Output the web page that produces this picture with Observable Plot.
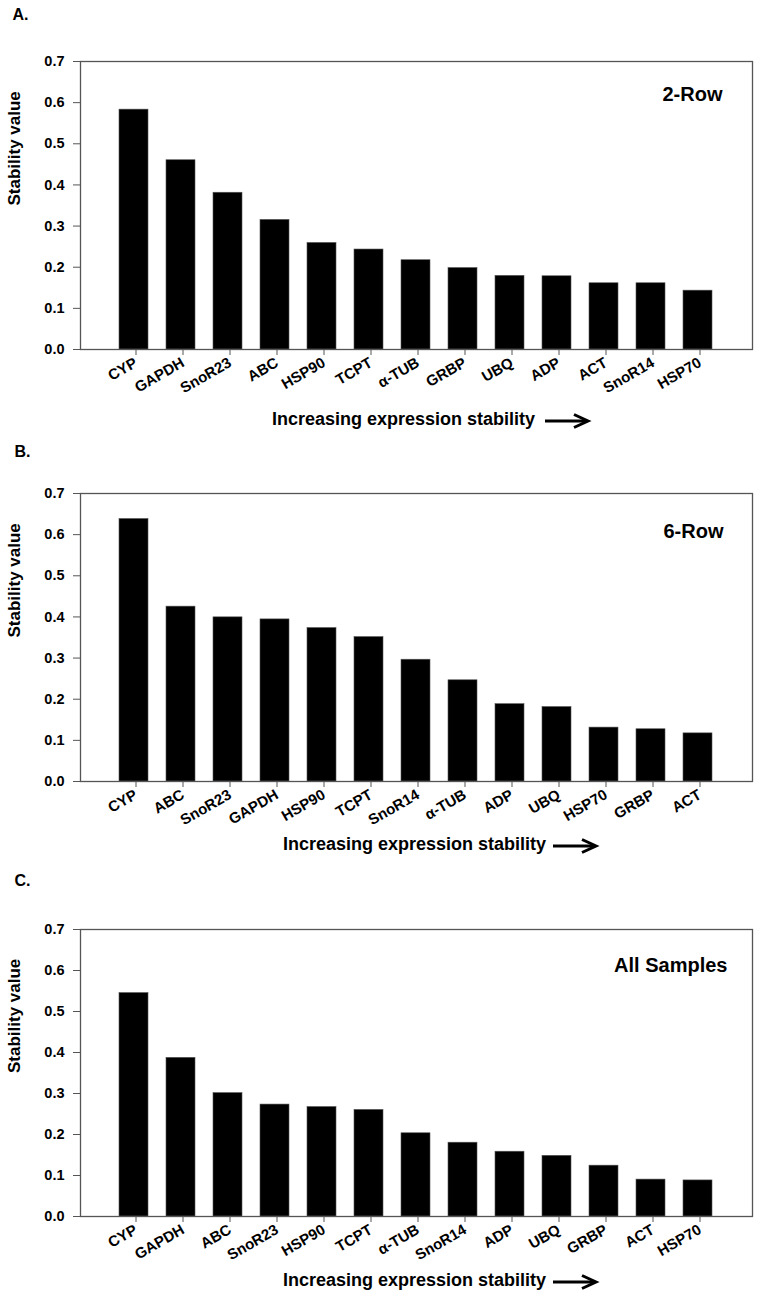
<!DOCTYPE html>
<html>
<head>
<meta charset="utf-8">
<script src="https://cdn.jsdelivr.net/npm/d3@7"></script>
<script src="https://cdn.jsdelivr.net/npm/@observablehq/plot@0.6"></script>
<style>
  html, body { margin: 0; padding: 0; background: #fff; }
  #chart { width: 759px; }
  #chart svg { display: block; }
</style>
</head>
<body>
<div id="chart"></div>
<script>
// ---- Data ----
const genesA = ["CYP","GAPDH","SnoR23","ABC","HSP90","TCPT","α-TUB","GRBP","UBQ","ADP","ACT","SnoR14","HSP70"];
const valuesA = [0.583,0.460,0.381,0.315,0.259,0.243,0.217,0.198,0.179,0.178,0.161,0.161,0.143];

const genesB = ["CYP","ABC","SnoR23","GAPDH","HSP90","TCPT","SnoR14","α-TUB","ADP","UBQ","HSP70","GRBP","ACT"];
const valuesB = [0.638,0.425,0.399,0.394,0.373,0.351,0.296,0.246,0.188,0.181,0.131,0.127,0.117];

const genesC = ["CYP","GAPDH","ABC","SnoR23","HSP90","TCPT","α-TUB","SnoR14","ADP","UBQ","GRBP","ACT","HSP70"];
const valuesC = [0.545,0.387,0.301,0.273,0.267,0.260,0.203,0.180,0.158,0.148,0.124,0.090,0.088];

const yTicks = [0,0.1,0.2,0.3,0.4,0.5,0.6,0.7];
const yLabel = "Stability value";
const xLabel = "Increasing expression stability";

const panels = [
  {letter:"A.", title:"2-Row",       genes:genesA, values:valuesA, height:433, mt:61, mb:84, ldx:-68, ldy:-53, tdx:-30, tdy:25, xdx:-13, xdy:75, adx:129},
  {letter:"B.", title:"6-Row",       genes:genesB, values:valuesB, height:433, mt:60, mb:85, ldx:-66, ldy:-48, tdx:-29, tdy:30, xdx:-2,  xdy:68, adx:137},
  {letter:"C.", title:"All Samples", genes:genesC, values:valuesC, height:432, mt:63, mb:82, ldx:-66, ldy:-55, tdx:-25, tdy:28, xdx:-2,  xdy:69, adx:137}
];

const font = "'Liberation Sans', Arial, Helvetica, sans-serif";

function arrowMark(cfg) {
  return (index, scales, values, dims) => {
    const cx = dims.marginLeft + (dims.width - dims.marginLeft - dims.marginRight) / 2 + cfg.adx;
    const cy = dims.height - dims.marginBottom + cfg.xdy - 3;
    const g = d3.create("svg:g").attr("fill", "none").attr("stroke", "#000").attr("stroke-width", 3);
    g.append("path").attr("d", `M${cx},${cy}H${cx + 41}`);
    g.append("path").attr("d", `M${cx + 29},${cy - 6.5}L${cx + 43},${cy}L${cx + 29},${cy + 6.5}`).attr("stroke-linejoin", "miter");
    return g.node();
  };
}

function panel(cfg) {
  const data = cfg.genes.map((g, i) => ({gene: g, value: cfg.values[i]}));
  return Plot.plot({
    width: 759,
    height: cfg.height,
    marginLeft: 80,
    marginRight: 7,
    marginTop: cfg.mt,
    marginBottom: cfg.mb,
    style: {fontFamily: font, fontWeight: "bold", color: "#000", background: "#fff", overflow: "visible"},
    x: {domain: cfg.genes, paddingInner: 0.38, paddingOuter: 0.7},
    y: {domain: [0, 0.7]},
    marks: [
      Plot.barY(data, {x: "gene", y: "value", fill: "#000", stroke: "#555", strokeWidth: 0.6}),
      Plot.frame({stroke: "#555", strokeWidth: 1.3}),
      Plot.axisY({ticks: yTicks, tickFormat: d3.format(".1f"), tickSize: 7, tickPadding: 9, fontSize: 14.5, label: null, stroke: "#555"}),
      Plot.axisX({tickSize: 6, tickRotate: -30, tickPadding: 6, dx: 2, fontSize: 15, label: null, stroke: "#555"}),
      Plot.text([yLabel], {frameAnchor: "left", dx: -66, rotate: -90, fontSize: 17, fontWeight: "bold", fill: "#000"}),
      Plot.text([xLabel], {frameAnchor: "bottom", dx: cfg.xdx, dy: cfg.xdy, fontSize: 18, fontWeight: "bold", fill: "#000"}),
      Plot.text([cfg.title], {frameAnchor: "top-right", dx: cfg.tdx, dy: cfg.tdy, textAnchor: "end", lineAnchor: "top", fontSize: 20, fontWeight: "bold", fill: "#000"}),
      Plot.text([cfg.letter], {frameAnchor: "top-left", dx: cfg.ldx, dy: cfg.ldy, textAnchor: "start", lineAnchor: "top", fontSize: 16, fontWeight: "bold", fill: "#000"}),
      arrowMark(cfg)
    ]
  });
}

const root = document.getElementById("chart");
for (const p of panels) root.appendChild(panel(p));
</script>
</body>
</html>
